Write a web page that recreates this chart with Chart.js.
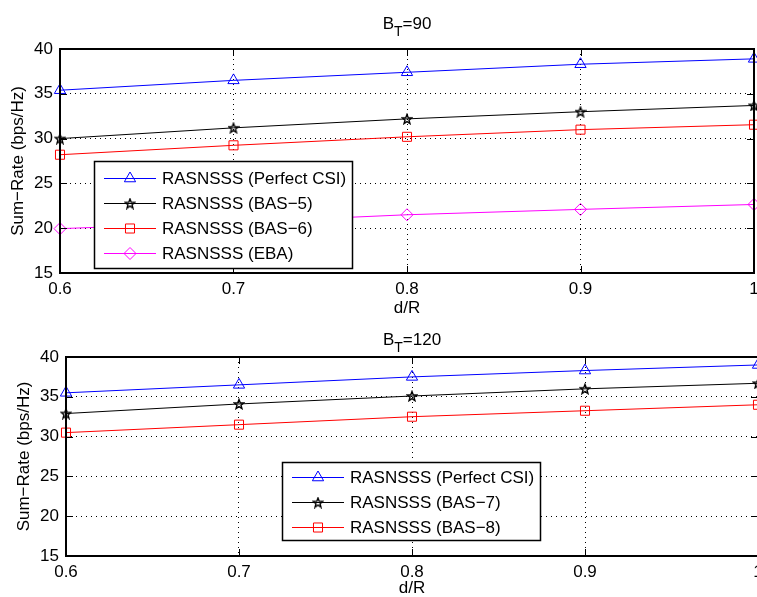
<!DOCTYPE html>
<html>
<head>
<meta charset="utf-8">
<script src="https://cdn.jsdelivr.net/npm/chart.js@4.4.0/dist/chart.umd.min.js"></script>
<style>
  html, body { margin: 0; padding: 0; background: #fff; overflow: hidden; width: 757px; height: 597px; }
  canvas { position: absolute; left: 0; }
  #chartTop { top: 0; }
  #chartBottom { top: 300px; }
</style>
</head>
<body>
<canvas id="chartTop" width="757" height="320" style="width:757px;height:320px"></canvas>
<canvas id="chartBottom" width="765" height="297" style="width:765px;height:297px"></canvas>
<script>
// x axis: d/R
const dR = [0.6, 0.7, 0.8, 0.9, 1.0];

// B_T = 90
const csi90 = [35.4, 36.5, 37.4, 38.3, 38.9];
const bas5 = [30.0, 31.2, 32.2, 33.0, 33.7];
const bas6 = [28.2, 29.25, 30.2, 31.0, 31.55];
const eba = [19.95, 20.65, 21.5, 22.1, 22.65];
const labels90 = ['RASNSSS (Perfect CSI)', 'RASNSSS (BAS\u22125)', 'RASNSSS (BAS\u22126)', 'RASNSSS (EBA)'];

// B_T = 120
const csi120 = [35.5, 36.5, 37.5, 38.3, 39.0];
const bas7 = [32.9, 34.1, 35.1, 36.0, 36.7];
const bas8 = [30.5, 31.5, 32.5, 33.25, 34.0];
const labels120 = ['RASNSSS (Perfect CSI)', 'RASNSSS (BAS\u22127)', 'RASNSSS (BAS\u22128)'];

const yRange = [15, 40];
const yStep = 5;
const xRange = [0.6, 1.0];
const xStep = 0.1;

const FONT = "'Liberation Sans', Arial, Helvetica, sans-serif";
Chart.defaults.font.family = FONT;
Chart.defaults.font.size = 17;
Chart.defaults.color = '#000';

// pentagram marker (matlab 'p')
function makeStar(size) {
    const c = document.createElement('canvas');
    c.width = c.height = size;
    const g = c.getContext('2d');
    const cx = size / 2, cy = size / 2 + 0.5, R = size / 2 - 1, r = R * 0.42;
    g.beginPath();
    for (let k = 0; k < 10; k++) {
        const a = -Math.PI / 2 + k * Math.PI / 5;
        const rr = k % 2 ? r : R;
        g.lineTo(cx + rr * Math.cos(a), cy + rr * Math.sin(a));
    }
    g.closePath();
    g.strokeStyle = '#000';
    g.lineWidth = 1.4;
    g.stroke();
    return c;
}
const starImg = makeStar(12);

const looks = {
    csi: { color: '#0000ff', pointStyle: 'triangle', radius: 6.5 },
    star: { color: '#000000', pointStyle: starImg, radius: 6 },
    square: { color: '#ff0000', pointStyle: 'rect', radius: 6.4 },
    diamond: { color: '#ff00ff', pointStyle: 'rectRot', radius: 6 }
};

function series(label, values, look) {
    return {
        label: label,
        data: dR.map((x, i) => ({ x: x, y: values[i] })),
        borderColor: look.color,
        backgroundColor: look.color,
        borderWidth: 1,
        pointStyle: look.pointStyle,
        pointRadius: look.radius,
        pointBorderWidth: 1,
        pointBorderColor: look.color,
        pointBackgroundColor: 'rgba(0,0,0,0)',
        tension: 0,
        fill: false,
        clip: false
    };
}

// box, inner ticks, titles, labels and legend the matlab way
const matlabFrame = {
    id: 'matlabFrame',
    afterDatasetsDraw(chart, args, opts) {
        const ctx = chart.ctx;
        const a = chart.chartArea;
        const xs = chart.scales.x, ys = chart.scales.y;
        ctx.save();
        ctx.strokeStyle = '#000';

        // inner tick marks
        ctx.lineWidth = 1;
        ctx.beginPath();
        xs.ticks.forEach(t => {
            const px = Math.round(xs.getPixelForValue(t.value)) + 0.5;
            ctx.moveTo(px, a.bottom); ctx.lineTo(px, a.bottom - 7);
            ctx.moveTo(px, a.top); ctx.lineTo(px, a.top + 7);
        });
        ys.ticks.forEach(t => {
            const py = Math.round(ys.getPixelForValue(t.value)) + 0.5;
            ctx.moveTo(a.left, py); ctx.lineTo(a.left + 7, py);
            ctx.moveTo(a.right, py); ctx.lineTo(a.right - 7, py);
        });
        ctx.stroke();

        // frame
        ctx.lineWidth = 2;
        ctx.strokeRect(Math.round(a.left), Math.round(a.top), Math.round(a.right - a.left), Math.round(a.bottom - a.top));

        // legend
        const L = opts.legend;
        ctx.fillStyle = '#fff';
        ctx.fillRect(L.left, L.top, L.width, L.height);
        ctx.lineWidth = 1.5;
        ctx.strokeRect(L.left + 0.5, L.top + 0.5, L.width, L.height);
        ctx.font = '17px ' + FONT;
        ctx.textBaseline = 'middle';
        ctx.textAlign = 'left';
        chart.data.datasets.forEach((ds, i) => {
            const ry = Math.round(L.top + L.firstRow + i * L.rowGap) + 0.5;
            ctx.strokeStyle = ds.borderColor;
            ctx.lineWidth = 1;
            ctx.beginPath();
            ctx.moveTo(L.left + 10, ry);
            ctx.lineTo(L.left + 62, ry);
            ctx.stroke();
            ctx.fillStyle = 'rgba(0,0,0,0)';
            Chart.helpers.drawPoint(ctx, {
                pointStyle: ds.pointStyle,
                radius: ds.pointRadius,
                rotation: 0,
                borderWidth: 1
            }, L.left + 36, ry);
            ctx.fillStyle = '#000';
            ctx.fillText(ds.label, L.left + 68, ry + 1);
        });
        ctx.restore();
    },
    afterDraw(chart, args, opts) {
        const ctx = chart.ctx;
        const a = chart.chartArea;
        const cx = (a.left + a.right) / 2;
        ctx.save();
        ctx.fillStyle = '#000';
        ctx.textBaseline = 'alphabetic';
        ctx.textAlign = 'left';

        // title B_T=..
        const big = '17px ' + FONT, small = '14px ' + FONT;
        ctx.font = big;
        const wB = ctx.measureText(opts.title[0]).width;
        const wRest = ctx.measureText(opts.title[2]).width;
        ctx.font = small;
        const wT = ctx.measureText(opts.title[1]).width;
        let tx = cx - (wB + wT + wRest) / 2;
        ctx.font = big;
        ctx.fillText(opts.title[0], tx, opts.titleBaseline);
        tx += wB;
        ctx.font = small;
        ctx.fillText(opts.title[1], tx, opts.titleBaseline + 7);
        tx += wT;
        ctx.font = big;
        ctx.fillText(opts.title[2], tx, opts.titleBaseline);

        // axis labels
        ctx.textAlign = 'center';
        ctx.textBaseline = 'middle';
        ctx.fillText('d/R', cx, opts.xLabelY);
        ctx.translate(opts.yLabelX, (a.top + a.bottom) / 2);
        ctx.rotate(-Math.PI / 2);
        ctx.fillText('Sum\u2212Rate (bps/Hz)', 0, 0);
        ctx.restore();
    }
};

function makeChart(id, datasets, frame, dims) {
    return new Chart(document.getElementById(id), {
        type: 'line',
        data: { datasets: datasets },
        options: {
            responsive: false,
            animation: false,
            events: [],
            layout: { autoPadding: false, padding: dims.padding },
            plugins: {
                legend: { display: false },
                title: { display: false },
                tooltip: { enabled: false },
                matlabFrame: frame
            },
            scales: {
                x: {
                    type: 'linear',
                    min: xRange[0],
                    max: xRange[1],
                    grid: { color: '#000', lineWidth: 1, drawTicks: false },
                    border: { display: false, dash: [1, 4] },
                    ticks: {
                        stepSize: xStep,
                        padding: 6,
                        maxRotation: 0,
                        callback: v => String(+v.toFixed(1))
                    },
                    afterFit: s => { s.height = dims.xHeight; s.paddingLeft = 0; s.paddingRight = 0; }
                },
                y: {
                    min: yRange[0],
                    max: yRange[1],
                    grid: { color: '#000', lineWidth: 1, drawTicks: false },
                    border: { display: false, dash: [1, 4] },
                    ticks: { stepSize: yStep, padding: 7 },
                    afterFit: s => { s.width = dims.yWidth; s.paddingTop = 0; s.paddingBottom = 0; }
                }
            }
        },
        plugins: [matlabFrame]
    });
}

makeChart('chartTop', [
    series(labels90[0], csi90, looks.csi),
    series(labels90[1], bas5, looks.star),
    series(labels90[2], bas6, looks.square),
    series(labels90[3], eba, looks.diamond)
], {
    title: ['B', 'T', '=90'],
    titleBaseline: 29,
    xLabelY: 308,
    yLabelX: 18,
    legend: { left: 94, top: 161, width: 258, height: 107, firstRow: 16.5, rowGap: 25.3 }
}, { padding: { top: 49, left: 0, right: 3, bottom: 0 }, yWidth: 60, xHeight: 47 });

makeChart('chartBottom', [
    series(labels120[0], csi120, looks.csi),
    series(labels120[1], bas7, looks.star),
    series(labels120[2], bas8, looks.square)
], {
    title: ['B', 'T', '=120'],
    titleBaseline: 45,
    xLabelY: 288,
    yLabelX: 24,
    legend: { left: 282, top: 162, width: 258, height: 78, firstRow: 14.7, rowGap: 25 }
}, { padding: { top: 57, left: 0, right: 7, bottom: 0 }, yWidth: 66, xHeight: 41 });
</script>
</body>
</html>
